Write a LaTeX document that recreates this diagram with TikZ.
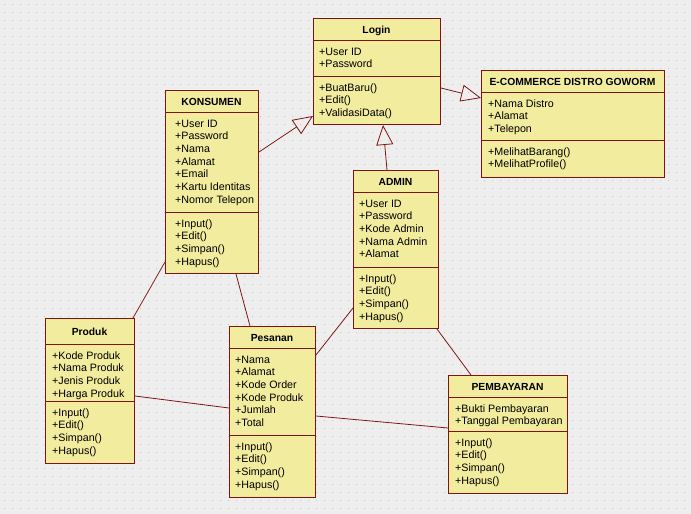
\documentclass[tikz,border=0pt]{standalone}
\usepackage{fontspec}
\setmainfont{Liberation Sans}
\usetikzlibrary{arrows.meta,calc}
\definecolor{boxfill}{RGB}{242,236,158}
\definecolor{boxline}{RGB}{128,20,20}
\definecolor{bgc}{RGB}{238,238,238}
\definecolor{dotc}{RGB}{204,204,204}
\tikzset{
 umlbox/.style={draw=boxline, fill=boxfill, line width=1pt, inner sep=0pt, anchor=north west},
 sepline/.style={draw=boxline, line width=1pt},
 member/.style={anchor=base west, inner sep=0pt, font=\fontsize{10.7}{13}\selectfont, text=black},
 ctitle/.style={anchor=base, inner sep=0pt, font=\fontsize{10.3}{13}\selectfont\bfseries, text=black},
 assoc/.style={draw=boxline, line width=0.8pt},
 gen/.style={draw=boxline, line width=0.8pt, -{Triangle[open,length=20pt,width=17pt]}}
}
% name, x, y, w, h, sep1, sep2, title
\newcommand\umlclass[8]{%
 \node[umlbox, minimum width=#4pt, minimum height=#5pt] (#1) at (#2,#3) {};
 \draw[sepline] (#2,#6) -- ++(#4,0);
 \draw[sepline] (#2,#7) -- ++(#4,0);
 \node[ctitle] at ({#2+#4/2},{(#3+#6)/2+4}) {#8};
}
% text x, separator y, list
\newcommand\umllines[3]{%
 \foreach \t [count=\i from 0] in {#3} {\node[member] at (#1,{#2+15+12.7*\i}) {\t};}
}
\begin{document}
\begin{tikzpicture}[x=1pt,y=-1pt]
\fill[bgc] (0,0) rectangle (691,514);
\useasboundingbox (0,0) rectangle (691,514);
\fill[dotc] \foreach \x in {4,12,...,690} {\foreach \y in {4,12,...,514} {(\x,\y) rectangle ++(1,1)}};

\umlclass{login}{313}{18}{127}{106}{40}{76}{Login}
\umllines{319}{40}{+User ID,+Password}
\umllines{319}{76}{+BuatBaru(),+Edit(),+ValidasiData()}

\umlclass{ecom}{481}{70}{183}{107}{92}{140}{E-COMMERCE DISTRO GOWORM}
\umllines{488}{92}{+Nama Distro,+Alamat,+Telepon}
\umllines{488}{140}{+MelihatBarang(),+MelihatProfile()}

\umlclass{kons}{165}{90}{93}{183}{112}{212}{KONSUMEN}
\umllines{175}{112}{+User ID,+Password,+Nama,+Alamat,+Email,+Kartu Identitas,+Nomor Telepon}
\umllines{175}{212}{+Input(),+Edit(),+Simpan(),+Hapus()}

\umlclass{admin}{353}{170}{85}{158}{192}{267}{ADMIN}
\umllines{359}{192}{+User ID,+Password,+Kode Admin,+Nama Admin,+Alamat}
\umllines{359}{267}{+Input(),+Edit(),+Simpan(),+Hapus()}

\umlclass{produk}{45}{318}{89}{145}{344}{401}{Produk}
\umllines{52}{344}{+Kode Produk,+Nama Produk,+Jenis Produk,+Harga Produk}
\umllines{52}{401}{+Input(),+Edit(),+Simpan(),+Hapus()}

\umlclass{pes}{229}{326}{86}{171}{348}{435}{Pesanan}
\umllines{235}{348}{+Nama,+Alamat,+Kode Order,+Kode Produk,+Jumlah,+Total}
\umllines{235}{435}{+Input(),+Edit(),+Simpan(),+Hapus()}

\umlclass{pemb}{448}{375}{119}{118}{397}{431}{PEMBAYARAN}
\umllines{455}{397}{+Bukti Pembayaran,+Tanggal Pembayaran}
\umllines{455}{431}{+Input(),+Edit(),+Simpan(),+Hapus()}

% generalizations
\draw[gen] ($(kons.north east)+(0,62)$) -- ($(login.south west)+(0,-9)$);
\draw[gen] ($(admin.north west)+(34,0)$) -- ($(login.south west)+(70,0)$);
\draw[gen] ($(login.north east)+(0,70)$) -- ($(ecom.north west)+(0,28)$);

% associations
\draw[assoc] ($(produk.north east)+(-2,0)$) -- ($(kons.south west)+(0,-12)$);
\draw[assoc] ($(kons.south west)+(71,0)$) -- ($(pes.north west)+(21,0)$);
\draw[assoc] ($(admin.north west)+(0,138)$) -- ($(pes.north east)+(0,29)$);
\draw[assoc] ($(admin.south east)+(-2,0)$) -- ($(pemb.north west)+(23,0)$);
\draw[assoc] ($(produk.north east)+(0,78)$) -- ($(pes.north west)+(0,82)$);
\draw[assoc] ($(pes.north east)+(0,90)$) -- ($(pemb.north west)+(0,53)$);
\end{tikzpicture}
\end{document}
